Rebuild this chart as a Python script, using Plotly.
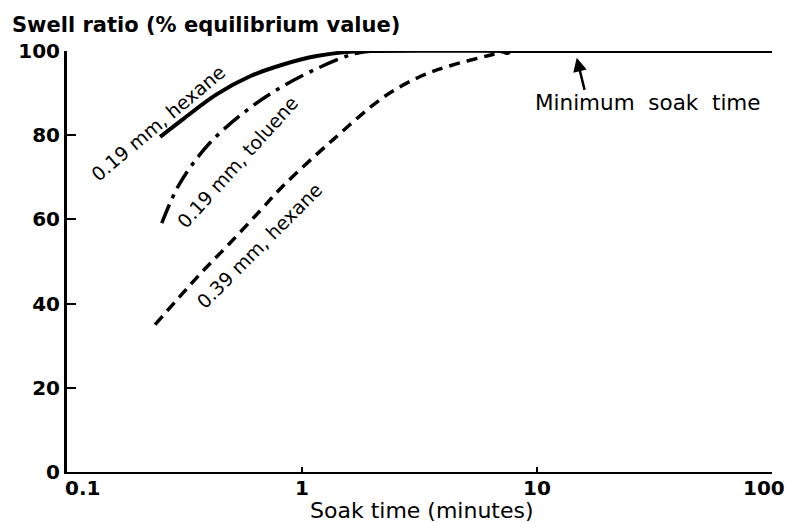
import math
import plotly.graph_objects as go

# Data (soak time in minutes, swell ratio in %)
hex19_t = [0.249, 0.313, 0.433, 0.601, 0.832, 1.155, 1.6, 2.0, 10, 100]
hex19_y = [79.6, 83.9, 89.7, 94.0, 96.8, 98.8, 99.8, 100, 100, 100]

tol19_t = [0.253, 0.303, 0.406, 0.601, 0.832, 1.155, 1.55, 1.75, 2.0]
tol19_y = [59.1, 68.7, 78.2, 86.5, 91.7, 95.8, 98.8, 99.6, 100]

hex39_t = [0.237, 0.368, 0.494, 0.662, 0.832, 1.36, 2.22, 3.2, 4.27, 6.3, 7.45]
hex39_y = [35.0, 47.0, 54.4, 62.0, 68.0, 79.0, 89.0, 94.0, 96.5, 99.0, 100]

x_ticks = [0.1, 1, 10, 100]
x_ticktext = ["0.1", "1", "10", "100"]
y_ticks = [0, 20, 40, 60, 80, 100]

FONT = "DejaVu Sans"

fig = go.Figure()
fig.add_trace(go.Scatter(x=hex19_t, y=hex19_y, mode="lines",
                         line=dict(color="black", width=4, shape="spline", smoothing=1.0),
                         showlegend=False))
fig.add_trace(go.Scatter(x=tol19_t, y=tol19_y, mode="lines",
                         line=dict(color="black", width=3.5, shape="spline", smoothing=1.0,
                                   dash="20px,7px,4px,7px"),
                         showlegend=False))
fig.add_trace(go.Scatter(x=hex39_t, y=hex39_y, mode="lines",
                         line=dict(color="black", width=3.5, shape="spline", smoothing=1.0,
                                   dash="11px,7px"),
                         showlegend=False))
fig.add_trace(go.Scatter(x=[hex39_t[-1]], y=[hex39_y[-1]], mode="markers",
                         marker=dict(color="black", size=8), showlegend=False))

# curve labels
lab_font = dict(family=FONT, size=19, color="black")
fig.add_annotation(x=-0.613, y=83.0, xref="x", yref="y", text="0.19 mm, hexane",
                   showarrow=False, textangle=-40, font=lab_font)
fig.add_annotation(x=-0.274, y=73.6, xref="x", yref="y", text="0.19 mm, toluene",
                   showarrow=False, textangle=-48, font=lab_font)
fig.add_annotation(x=-0.183, y=53.6, xref="x", yref="y", text="0.39 mm, hexane",
                   showarrow=False, textangle=-45, font=lab_font)

# minimum soak time
fig.add_annotation(x=1.169, y=98.4, ax=1.204, ay=90.4, xref="x", yref="y",
                   axref="x", ayref="y", text="", showarrow=True,
                   arrowhead=2, arrowsize=1.1, arrowwidth=2.5, arrowcolor="black")
fig.add_annotation(x=1.474, y=87.8, xref="x", yref="y",
                   text="Minimum\u00a0 soak\u00a0 time", showarrow=False,
                   font=dict(family=FONT, size=21.5, color="black"))

# titles
fig.add_annotation(x=-0.0809, y=1.0618, xref="paper", yref="paper",
                   text="Swell ratio (% equilibrium value)", showarrow=False,
                   xanchor="left", yanchor="middle",
                   font=dict(family=FONT, size=21, color="black", weight="bold"))
fig.add_annotation(x=0.5035, y=0, xref="paper", yref="paper", yshift=-38,
                   text="Soak time (minutes)", showarrow=False,
                   xanchor="center", yanchor="middle",
                   font=dict(family=FONT, size=22, color="black"))

tick_font = dict(family=FONT, size=20, color="black", weight="bold")

# x tick labels placed on the log axis at their tick values; the end labels are
# nudged inward as in the reference (0.1 clears the axis corner, 100 the edge)
x_label_shift = {0.1: 15, 100: -8}
for v, txt in zip(x_ticks, x_ticktext):
    fig.add_annotation(x=math.log10(v), y=0, xref="x", yref="paper",
                       xshift=x_label_shift.get(v, 0), yshift=-16,
                       text=txt, showarrow=False, xanchor="center",
                       yanchor="middle", font=tick_font)

fig.update_xaxes(type="log", range=[-1, 2], tickvals=x_ticks, showticklabels=False,
                 showline=True, linecolor="black", linewidth=2, ticks="inside",
                 ticklen=5, tickwidth=2, tickcolor="black", showgrid=False,
                 zeroline=False, automargin=False)
fig.update_yaxes(range=[0, 100], tickvals=y_ticks, showline=True, linecolor="black",
                 linewidth=3, ticks="inside", ticklen=9, tickwidth=2, tickcolor="black",
                 showgrid=False, zeroline=False, automargin=False,
                 ticklabeloverflow="allow", tickfont=tick_font)
fig.update_layout(width=788, height=522, margin=dict(l=67, r=16, t=51, b=50),
                  paper_bgcolor="white", plot_bgcolor="white",
                  font=dict(family=FONT, color="black"))

# remove the browser's default 8px body margin so the figure fills the window
fig.write_html("out.html", config={"displayModeBar": False},
               post_script="document.body.style.margin='0';"
                           "document.body.style.overflow='hidden';")
